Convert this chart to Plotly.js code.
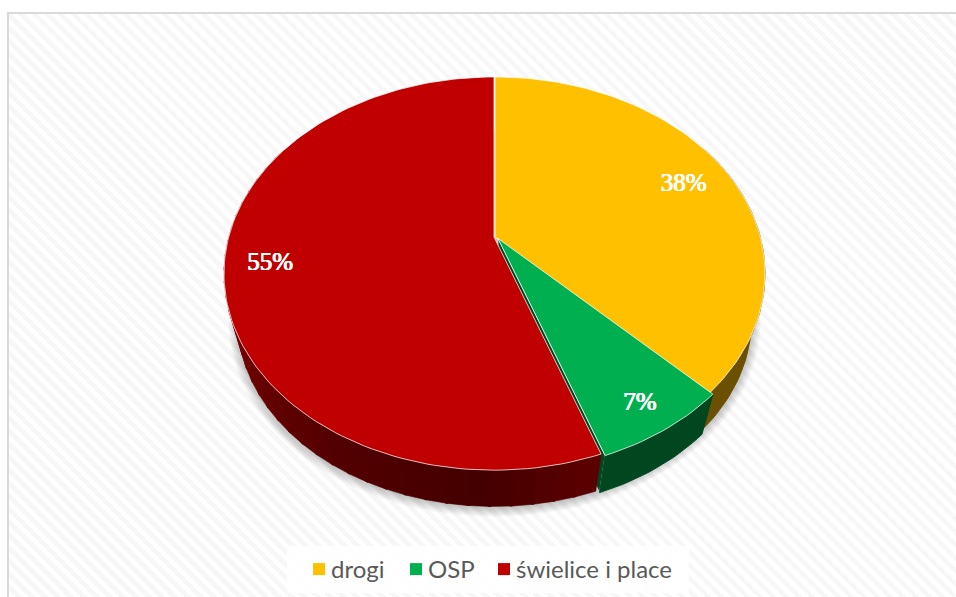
<!DOCTYPE html>
<html><head><meta charset="utf-8">
<script src="https://cdn.plot.ly/plotly-3.0.1.min.js"></script>
<style>
html,body{margin:0;padding:0;background:#fff;overflow:hidden;width:956px;height:597px}
#frame{position:absolute;left:7px;top:12px;width:949px;height:585px;box-sizing:border-box;border-left:2px solid #d9d9d9;border-top:2px solid #d9d9d9;
background:repeating-linear-gradient(45deg,#ffffff 0,#ffffff 4.6px,#f7f7f7 4.6px,#f7f7f7 9.2px)}
#chart{position:absolute;left:0;top:0;width:956px;height:597px}
</style></head><body>
<div id="frame"></div><div id="chart"></div>
<script>
// Data
const categories = ['drogi', 'OSP', 'świelice i place'];
const values = [37.6, 7.0, 55.4];
const topColors = ['#FFC000', '#00B050', '#C00000'];
const wallColors = ['#6a5000', '#00471f', '#5a0000'];

// Projection of the tilted disc onto the chart's axes
const cx = 494.5, apexY = 237, a = 265.3, b = 189.8, k = 0.186;
const lowScale = 0.95, lowApexY = 285;
const offsets = [[0.5, 0], [3.5, 1.5], [-0.5, 0]];
const labelRadius = [0.82, 0.87, 0.83];
const labelNudge = [[-1.5, 3.5], [0, 3], [-1, -1]];
function topPt(deg, r, off) {
  const t = deg * Math.PI / 180, w = 1 + k * Math.cos(t) * r;
  return [cx + a * Math.sin(t) * r / w + off[0], apexY - b * Math.cos(t) * r / w + off[1]];
}
function lowPt(deg, r, off) {
  const p = topPt(deg, r, off);
  return [cx + lowScale * (p[0] - cx), lowApexY + lowScale * (p[1] - apexY)];
}
function arc(fn, d0, d1, off) {
  const n = Math.max(2, Math.ceil(Math.abs(d1 - d0) / 1.5)), out = [];
  for (let i = 0; i <= n; i++) out.push(fn(d0 + (d1 - d0) * i / n, 1, off));
  return out;
}
const total = values.reduce((s, v) => s + v, 0);
let acc = 0;
const spans = values.map(v => { const s = [acc, acc + v / total * 360]; acc = s[1]; return s; });

function poly(pts, fill, line, lw) {
  return {type: 'scatter', mode: 'lines', x: pts.map(p => p[0]).concat(pts[0][0]), y: pts.map(p => p[1]).concat(pts[0][1]),
    fill: 'toself', fillcolor: fill, line: {color: line || fill, width: lw === undefined ? 1 : lw},
    hoverinfo: 'skip', showlegend: false};
}
const traces = [];
// soft shadow under the disc
for (let e = 10; e >= 1; e--) {
  const pts = [];
  for (let d = 0; d < 360; d += 3) {
    const t = d * Math.PI / 180;
    pts.push([cx + (256.5 + e) * Math.sin(t), 321 + (186 + e) * Math.cos(t)]);
  }
  traces.push(poly(pts, 'rgba(0,0,0,0.022)', 'rgba(0,0,0,0)', 0));
}
// side walls
function wall(i, d0, d1, col, lw) {
  const off = offsets[i];
  const up = arc(topPt, d0, d1, off), dn = arc(lowPt, d0, d1, off).reverse();
  return poly(up.concat(dn), col, col, lw);
}
traces.push(wall(0, spans[0][0] + 60, spans[0][1], wallColors[0]));
// end face of the pulled-out green slice
{
  const off = offsets[1], e = spans[1][1];
  traces.push(poly([topPt(e, 0, off), topPt(e, 1, off), lowPt(e, 1, off), lowPt(e, 0, off)], wallColors[1], 'rgba(215,230,220,0.8)', 1));
}
traces.push(wall(1, spans[1][0], spans[1][1], wallColors[1]));
// red wall shaded along the rim
const shadeStops = [[160, [92, 0, 0]], [180, [68, 0, 0]], [205, [80, 0, 0]], [235, [105, 0, 0]], [265, [145, 0, 0]], [300, [150, 0, 0]]];
function shade(d) {
  for (let i = 1; i < shadeStops.length; i++) {
    if (d <= shadeStops[i][0]) {
      const A = shadeStops[i - 1], B = shadeStops[i], f = (d - A[0]) / (B[0] - A[0]);
      return 'rgb(' + A[1].map((c, j) => Math.round(c + (B[1][j] - c) * f)).join(',') + ')';
    }
  }
  return 'rgb(150,0,0)';
}
for (let d = spans[2][0]; d < 300; d += 4) traces.push(wall(2, d, Math.min(d + 4.5, 300), shade(d), 0.6));
// top faces
const faceLine = 'rgba(255,255,255,0.72)';
[0, 1, 2].forEach(i => {
  const off = offsets[i];
  const pts = [topPt(0, 0, off)].concat(arc(topPt, spans[i][0], spans[i][1], off));
  traces.push(poly(pts, topColors[i], faceLine, 1));
});
// value labels
const pct = values.map(v => Math.round(v / total * 100) + '%');
const labelPts = values.map((v, i) => {
  const p = topPt((spans[i][0] + spans[i][1]) / 2, labelRadius[i], offsets[i]);
  return [p[0] + labelNudge[i][0], p[1] + labelNudge[i][1]];
});
traces.push({type: 'scatter', mode: 'text', x: labelPts.map(p => p[0]), y: labelPts.map(p => p[1]), text: pct,
  textposition: 'middle center',
  textfont: {family: 'Liberation Serif', size: 25, color: '#ffffff', weight: 400, shadow: '0.45px 0 0 #fff, -0.45px 0 0 #fff, 0 0.3px 0 #fff'},
  hoverinfo: 'skip', showlegend: false});
// legend entries
categories.forEach((c, i) => traces.push({type: 'scatter', mode: 'markers', x: [null], y: [null], name: c,
  marker: {symbol: 'square', size: 12, color: topColors[i]}, hoverinfo: 'skip', showlegend: true}));

const layout = {
  width: 956, height: 597, margin: {l: 0, r: 0, t: 0, b: 0},
  paper_bgcolor: 'rgba(0,0,0,0)', plot_bgcolor: 'rgba(0,0,0,0)',
  xaxis: {range: [0, 956], visible: false, fixedrange: true},
  yaxis: {range: [597, 0], visible: false, fixedrange: true},
  shapes: [{type: 'rect', xref: 'x', yref: 'y', x0: 287, x1: 689, y0: 546, y1: 593, fillcolor: 'rgba(255,255,255,0.8)', line: {width: 0}, layer: 'below'}],
  legend: {orientation: 'h', x: 295 / 956, xanchor: 'left', y: 1 - 547 / 597, yanchor: 'top',
    bgcolor: 'rgba(0,0,0,0)', font: {family: 'Lato', size: 24, color: '#595959'}, itemclick: false, itemdoubleclick: false},
  showlegend: true
};
// legend item spacing in the reference is tighter than Plotly's minimum symbol width
const legendTextLeft = [331, 428, 516];
const swatchShift = 8;
Plotly.newPlot('chart', traces, layout, {displayModeBar: false, staticPlot: true}).then(gd => {
  document.querySelectorAll('#chart .legend .traces').forEach((g, i) => {
    const txt = g.querySelector('text');
    const dx = legendTextLeft[i] - txt.getBoundingClientRect().left;
    const m = /translate\(\s*([-\d.]+)[ ,]+([-\d.]+)/.exec(g.getAttribute('transform'));
    g.setAttribute('transform', 'translate(' + (parseFloat(m[1]) + dx) + ',' + m[2] + ')');
    const sym = g.querySelector('.legendsymbols');
    if (sym) sym.setAttribute('transform', 'translate(' + swatchShift + ',0)');
  });
});
</script></body></html>
